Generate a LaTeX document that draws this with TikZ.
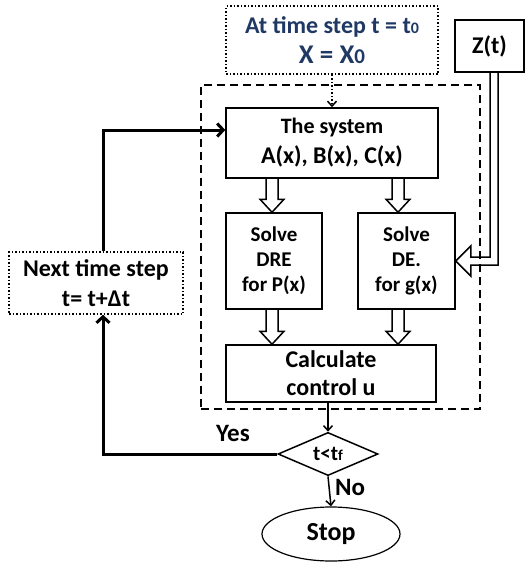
\documentclass[tikz,border=0pt]{standalone}
\usepackage{fontspec}
\setmainfont{Carlito}
\usetikzlibrary{shapes.geometric,arrows.meta,calc}
\definecolor{navy}{RGB}{31,56,100}
\tikzset{
  box/.style={draw, line width=1.5pt, align=center, inner sep=0pt},
  fat/.style={draw, line width=1.5pt, line join=miter},
  thickarr/.style={line width=3pt, -{Straight Barb[length=6pt,width=13pt]}},
  thinarr/.style={line width=1.5pt, -{Straight Barb[length=5pt,width=9pt]}},
  grpbox/.style={draw, line width=2pt, dash pattern=on 8pt off 5pt},
  big/.style={font=\bfseries\fontsize{24}{30}\selectfont},
  mid/.style={font=\bfseries\fontsize{21}{25}\selectfont},
}
\newcommand\hollowdown[3]{\draw[fat] let \p1=(#2.south), \p2=(#3.north) in
  (#1pt-6pt,\y1) -- (#1pt-6pt,\y2+13pt) -- (#1pt-12pt,\y2+13pt) -- (#1pt,\y2) --
  (#1pt+12pt,\y2+13pt) -- (#1pt+6pt,\y2+13pt) -- (#1pt+6pt,\y1);}
\newcommand\subsm[1]{{\fontsize{16}{16}\selectfont #1}}
\begin{document}
\begin{tikzpicture}[x=1pt,y=-1pt]
\useasboundingbox (0,0) rectangle (525,562);
% nodes
\node[box, big, dotted, minimum width=212pt, minimum height=68pt, text=navy] (init) at (332,40)
  {At time step t = t\subsm{0}\\{\fontsize{27}{27}\selectfont X = X{\fontsize{21}{21}\selectfont 0}}};
\node[box, big, minimum width=69pt, minimum height=52pt] (zt) at (489.5,46) {Z(t)};
\node[box, big, minimum width=212pt, minimum height=70pt] (sys) at (332,143)
  {{\fontsize{22}{22}\selectfont The system}\\A(x), B(x), C(x)};
\node[box, mid, minimum width=96pt, minimum height=96pt] (dre) at (274,261)
  {Solve\\DRE\\for P(x)};
\node[box, mid, minimum width=97pt, minimum height=96pt] (de) at (406.5,261)
  {Solve\\DE.\\for g(x)};
\node[box, font=\bfseries\fontsize{24}{28}\selectfont, minimum width=210pt, minimum height=57pt] (calc) at (331,373.5)
  {Calculate\\control u};
\node[box, big, dotted, minimum width=174pt, minimum height=62pt] (next) at (96,283)
  {Next time step\\t= t+Δt};
\node[draw, line width=1.5pt, diamond, minimum width=100pt, minimum height=38pt, inner sep=0pt,
  font=\bfseries\fontsize{21}{21}\selectfont] (dia) at (328,454) {t<t{\fontsize{15}{15}\selectfont f}};
\node[draw, line width=1.2pt, ellipse, minimum width=138pt, minimum height=54pt, inner sep=0pt,
  font=\bfseries\fontsize{26}{26}\selectfont] (stop) at (331,534) {Stop};
\node[font=\bfseries\fontsize{25}{25}\selectfont] (yes) at (233,433) {Yes};
\node[font=\bfseries\fontsize{25}{25}\selectfont] (no) at (350,487) {No};
% hollow arrows
\hollowdown{272}{sys}{dre}
\hollowdown{398}{sys}{de}
\hollowdown{272}{dre}{calc}
\hollowdown{398}{de}{calc}
\draw[fat] let \p1=(zt.south), \p2=(de.east) in
  (490pt,\y1) -- (490pt,\y2+4pt) -- (\x2+15pt,\y2+4pt) -- (\x2+15pt,\y2+15pt) -- (\p2) --
  (\x2+15pt,\y2-15pt) -- (\x2+15pt,\y2-4pt) -- (498pt,\y2-4pt) -- (498pt,\y1);
% group box
\node[grpbox, minimum width=279pt, minimum height=324pt, inner sep=0pt] (grp) at (340.5,247) {};
% connectors
\coordinate (nb) at ($(next.south)+(7,0)$);
\coordinate (nt) at ($(next.north)+(7,0)$);
\coordinate (sa) at ($(sys.west)+(0,-13)$);
\draw[thickarr] (dia.west) -- (nb |- dia.west) -- (nb);
\draw[thickarr] (nt) |- (sa);
\draw[thinarr] (dia.north |- calc.south) -- (dia.north);
\draw[thinarr] (dia.south) -- (stop.north);
\draw[thinarr, dotted] (init.south) -- (sys.north);
\end{tikzpicture}
\end{document}
